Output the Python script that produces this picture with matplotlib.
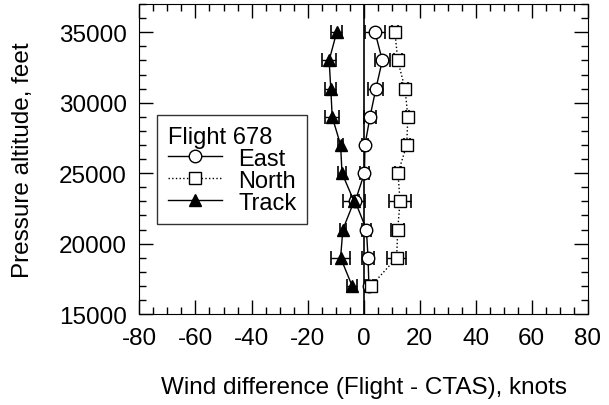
import numpy as np
import matplotlib.pyplot as plt
from matplotlib.lines import Line2D
from matplotlib.ticker import MultipleLocator

plt.rcParams['font.family'] = ['Liberation Sans', 'DejaVu Sans']
plt.rcParams['axes.unicode_minus'] = False

# Pressure altitude levels (feet)
altitude = [17000, 19000, 21000, 23000, 25000, 27000, 29000, 31000, 33000, 35000]

# Wind difference (Flight - CTAS), knots
east = [1.9, 1.6, 1.0, -3.0, 0.3, 0.5, 2.3, 4.4, 6.7, 4.1]
east_err = [1.5, 2.0, 1.5, 1.5, 1.5, 1.0, 2.2, 2.7, 2.7, 3.5]
north = [2.7, 11.8, 12.2, 13.0, 12.3, 15.4, 15.8, 14.8, 12.2, 11.2]
north_err = [1.5, 3.4, 2.4, 3.8, 1.0, 1.0, 0.5, 1.0, 1.4, 1.0]
track = [-4.1, -8.2, -7.4, -3.4, -7.7, -8.2, -11.2, -11.7, -12.3, -9.6]
track_err = [1.9, 3.4, 1.0, 3.8, 1.4, 1.0, 2.4, 1.9, 2.4, 1.9]

fig = plt.figure(figsize=(6.09, 4.06), dpi=100)
ax = fig.add_axes([0.229, 0.224, 0.736, 0.7635])

ax.axvline(0, color='black', lw=1.2, zorder=1)

styles = [
    (east, east_err, '-', 'o', 'white', 9),
    (north, north_err, ':', 's', 'white', 8),
    (track, track_err, '-', '^', 'black', 9),
]
for vals, err, ls, mk, fc, ms in styles:
    ax.errorbar(vals, altitude, xerr=err, ls=ls, marker=mk, color='black', mfc=fc,
                mec='black', ms=ms, lw=1, capsize=5, capthick=1.2, elinewidth=1, zorder=3)

ax.set_xlim(-80, 80)
ax.set_ylim(15000, 37000)
ax.set_xticks(np.arange(-80, 81, 20))
ax.set_yticks(np.arange(15000, 35001, 5000))
ax.xaxis.set_minor_locator(MultipleLocator(5))
ax.yaxis.set_minor_locator(MultipleLocator(1000))
ax.tick_params(which='both', direction='in', top=True, right=True, labelsize=17.5)
ax.tick_params(which='major', length=10, width=1, pad=9)
ax.tick_params(which='minor', length=5, width=1)

ax.set_xlabel('Wind difference (Flight - CTAS), knots', fontsize=17.5, labelpad=20)
ax.set_ylabel('Pressure altitude, feet', fontsize=17.5, labelpad=18)

handles = [
    Line2D([], [], ls='-', marker='o', color='black', mfc='white', ms=9, lw=1),
    Line2D([], [], ls=':', marker='s', color='black', mfc='white', ms=8, lw=1),
    Line2D([], [], ls='-', marker='^', color='black', mfc='black', ms=9, lw=1),
]
leg = ax.legend(handles, ['East', 'North', 'Track'], title='Flight 678',
                loc='lower left', bbox_to_anchor=(0.039, 0.29),
                fontsize=17, title_fontsize=17, frameon=True, fancybox=False,
                edgecolor='black', handlelength=2.3, borderpad=0.45,
                labelspacing=0.0, handletextpad=0.7, borderaxespad=0)
leg.get_frame().set_linewidth(1)
leg._legend_box.align = 'left'

fig.savefig('out.png', dpi=100)
